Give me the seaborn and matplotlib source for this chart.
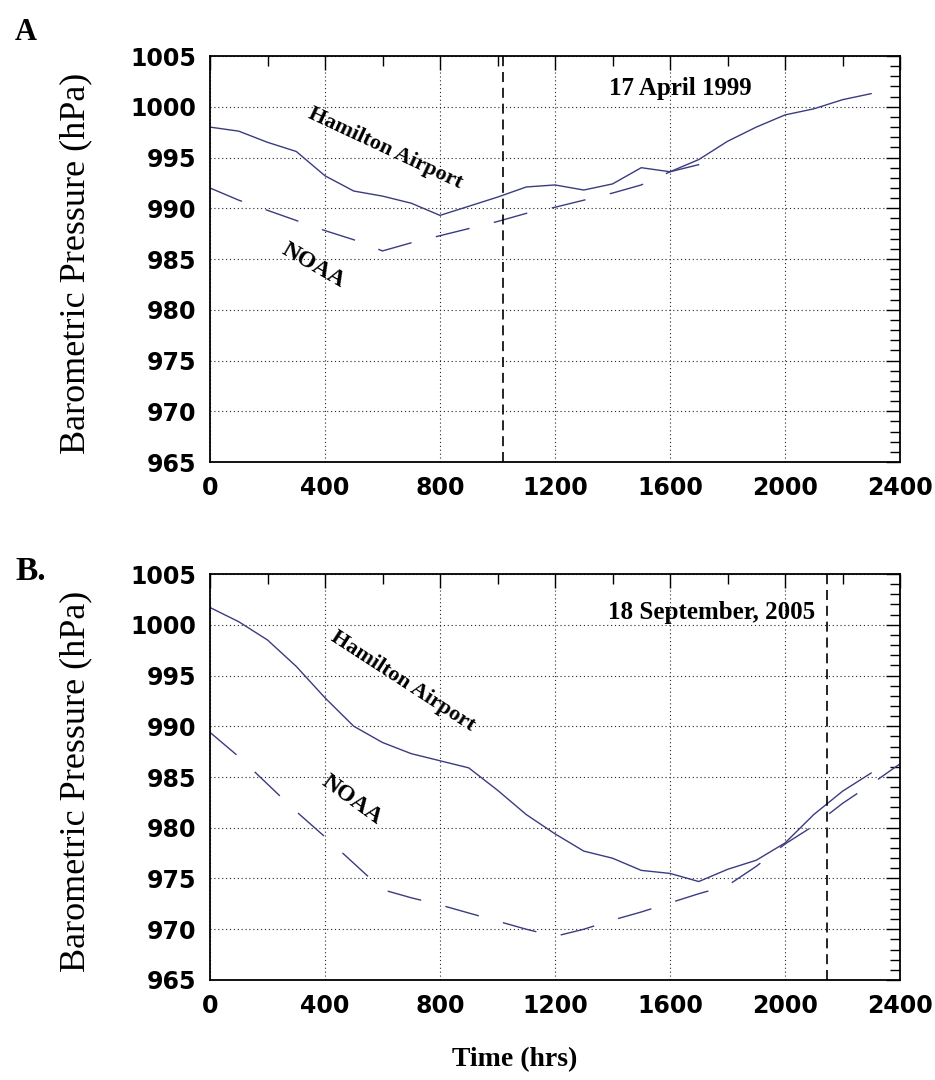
import numpy as np
import pandas as pd
import seaborn as sns
import matplotlib.pyplot as plt
from matplotlib.ticker import MultipleLocator

# Time axis (hrs) and barometric pressure (hPa)
hours_a = [0, 100, 200, 300, 400, 500, 600, 700, 800, 900, 1000, 1100,
           1200, 1300, 1400, 1500, 1600, 1700, 1800, 1900, 2000, 2100, 2200, 2300]
hamilton_a = [998.0, 997.6, 996.5, 995.6, 993.2, 991.7, 991.2, 990.5, 989.3, 990.2, 991.1, 992.1,
              992.3, 991.8, 992.4, 994.0, 993.6, 994.8, 996.6, 998.0, 999.2, 999.8, 1000.7, 1001.3]
noaa_hours_a = [0, 100, 200, 300, 400, 500, 600, 700, 800, 900, 1000, 1100,
                1200, 1300, 1400, 1500, 1600, 1700, 1750]
noaa_a = [992.0, 990.8, 989.8, 988.8, 987.8, 986.9, 985.8, 986.6, 987.3, 988.0, 988.7, 989.5,
          990.1, 990.8, 991.5, 992.3, 993.6, 994.3, 994.6]

hours_b = [0, 100, 200, 300, 400, 500, 600, 700, 800, 900, 1000, 1100,
           1200, 1300, 1400, 1500, 1600, 1700, 1800, 1900, 2000, 2100, 2200, 2300]
hamilton_b = [1001.7, 1000.3, 998.5, 995.9, 992.8, 990.0, 988.4, 987.3, 986.6, 985.9, 983.7, 981.3,
              979.4, 977.7, 977.0, 975.8, 975.5, 974.7, 975.9, 976.8, 978.5, 981.3, 983.6, 985.4]
noaa_hours_b = [0, 100, 200, 300, 400, 500, 550, 600, 700, 800, 900, 1000, 1100, 1200,
                1300, 1400, 1500, 1600, 1700, 1800, 1900, 2000, 2100, 2200, 2300, 2400]
noaa_b = [989.4, 987.0, 984.3, 981.6, 979.1, 976.5, 975.2, 973.9, 973.1, 972.4, 971.6, 970.8, 970.0, 969.3,
          970.0, 970.9, 971.7, 972.6, 973.5, 974.3, 976.2, 978.4, 980.2, 982.4, 984.3, 986.3]

event_a = 1020
event_b = 2146

line_color = "#3b3b80"

sns.set_theme(style="white")
plt.rcParams["font.family"] = ["DejaVu Sans"]
plt.rcParams["text.color"] = "black"
plt.rcParams["axes.labelcolor"] = "black"

fig = plt.figure(figsize=(9.35, 10.8), dpi=100)
ax_a = fig.add_axes([0.2246, 0.5722, 0.738, 0.3759])
ax_b = fig.add_axes([0.2246, 0.0926, 0.738, 0.3759])

panels = [
    (ax_a, hours_a, hamilton_a, noaa_hours_a, noaa_a, event_a, "17 April 1999", 1635, 1001.85,
     (609, 995.9, -25), (360, 984.4, -30)),
    (ax_b, hours_b, hamilton_b, noaa_hours_b, noaa_b, event_b, "18 September, 2005", 1746, 1001.2,
     (672, 994.4, -33), (493, 982.7, -36)),
]

for ax, hx, hy, nx, ny, ev, date, dx, dy, ham_lbl, noaa_lbl in panels:
    sns.lineplot(x=hx, y=hy, ax=ax, color=line_color, linewidth=1.0, errorbar=None)
    sns.lineplot(x=nx, y=ny, ax=ax, color=line_color, linewidth=1.0, errorbar=None,
                 linestyle=(0, (25, 18)))
    ax.axvline(ev, color="black", linewidth=1.2, linestyle=(0, (6, 3.5)))

    ax.set_xlim(0, 2400)
    ax.set_ylim(965, 1005)
    ax.xaxis.set_major_locator(MultipleLocator(400))
    ax.xaxis.set_minor_locator(MultipleLocator(200))
    ax.yaxis.set_major_locator(MultipleLocator(5))
    ax.yaxis.set_minor_locator(MultipleLocator(1))
    ax.grid(True, which="major", color="0.15", linestyle=(0, (1, 2.5)), linewidth=0.8)
    ax.tick_params(which="both", direction="in", top=True, right=True, colors="black")
    ax.tick_params(which="major", length=10, width=1.0, pad=10, labelsize=17)
    ax.tick_params(which="minor", length=7, width=1.0)
    for lab in ax.get_xticklabels() + ax.get_yticklabels():
        lab.set_fontweight("bold")
    for sp in ax.spines.values():
        sp.set_color("black")
        sp.set_linewidth(1.3)

    ax.set_ylabel("Barometric Pressure (hPa)", family="Liberation Serif", fontsize=26,
                  color="black")
    ax.yaxis.set_label_coords(-0.17, 0.49)
    ax.set_xlabel("")

    ax.text(dx, dy, date, ha="center", va="center", fontsize=18, color="black",
            fontweight="bold", family="Liberation Serif")
    ax.text(ham_lbl[0], ham_lbl[1], "Hamilton Airport", ha="center", va="center",
            rotation=ham_lbl[2], rotation_mode="anchor", fontsize=16, color="black",
            fontweight="bold", family="Liberation Serif")
    ax.text(noaa_lbl[0], noaa_lbl[1], "NOAA", ha="center", va="center",
            rotation=noaa_lbl[2], rotation_mode="anchor", fontsize=17, color="black",
            fontweight="bold", family="Liberation Serif")

fig.text(26 / 935, 1 - 32 / 1080, "A", ha="center", va="center", fontsize=22,
         fontweight="bold", family="Liberation Serif", color="black")
fig.text(31 / 935, 1 - 572 / 1080, "B.", ha="center", va="center", fontsize=24,
         fontweight="bold", family="Liberation Serif", color="black")
fig.text(515 / 935, 1 - 1060 / 1080, "Time (hrs)", ha="center", va="center", fontsize=20,
         fontweight="bold", family="Liberation Serif", color="black")

fig.savefig("out.png", dpi=100)
